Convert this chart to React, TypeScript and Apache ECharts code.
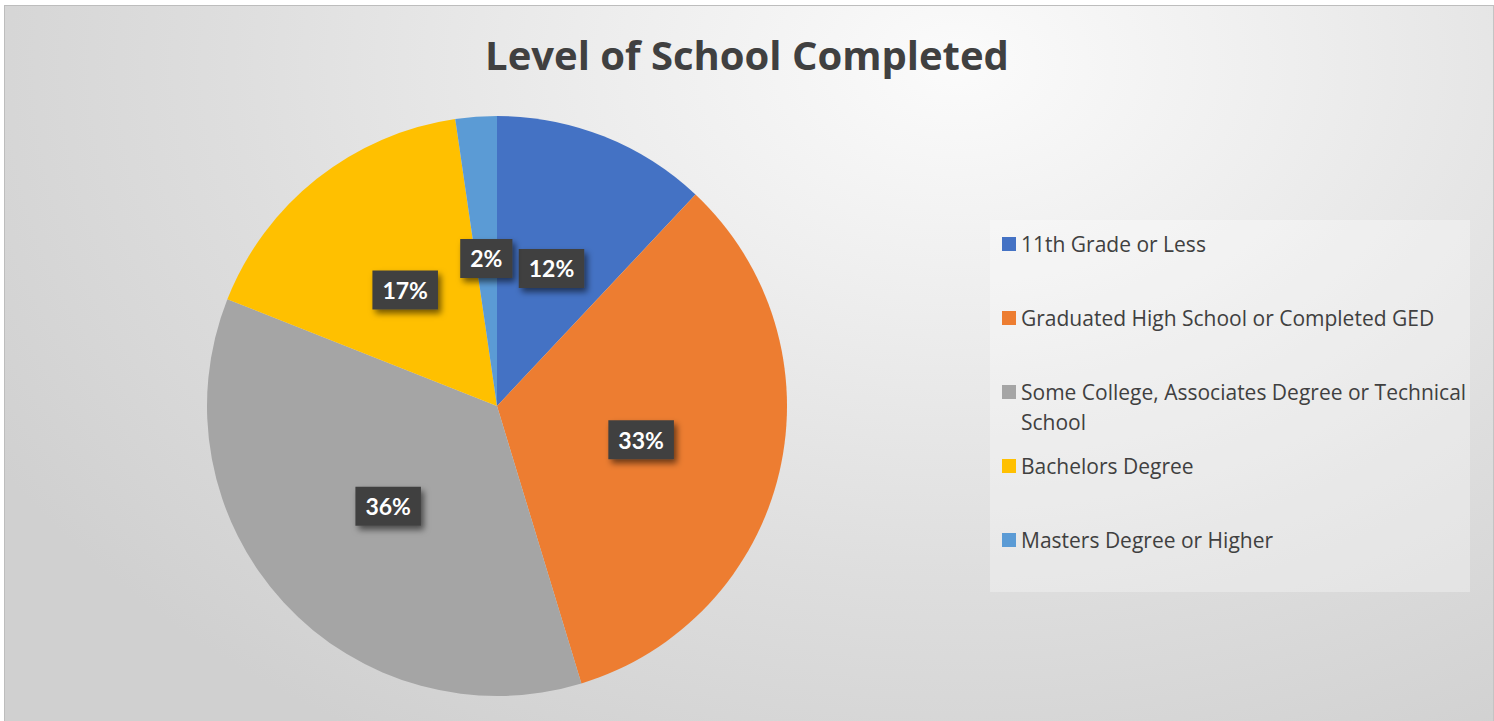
import React, { useEffect, useRef } from "react";
import * as echarts from "echarts";

const TITLE = "Level of School Completed";
const categories = [
  "11th Grade or Less",
  "Graduated High School or Completed GED",
  "Some College, Associates Degree or Technical School",
  "Bachelors Degree",
  "Masters Degree or Higher",
];
const values = [12.0, 33.3, 35.7, 16.7, 2.3];
const colors = ["#4472C4", "#ED7D31", "#A5A5A5", "#FFC000", "#5B9BD5"];
// how legend names wrap in the picture
const legendWrapped: Record<string, string> = {
  "Some College, Associates Degree or Technical School":
    "Some College, Associates Degree or Technical\nSchool",
};
const legendCenters = [244, 318, 392, 466, 540];

const FONT = "Lato, 'Open Sans', sans-serif";
const WIDE_FONT = "'Open Sans', Lato, sans-serif";

export default function App() {
  const ref = useRef<HTMLDivElement>(null);
  useEffect(() => {
    if (!ref.current) return;
    const chart = echarts.init(ref.current, undefined, { renderer: "svg" });
    const legends = categories.map((name, i) => {
      const wrapped = legendWrapped[name];
      const base: any = {
        data: [name],
        orient: "vertical",
        left: 1002,
        padding: 0,
        itemWidth: 14,
        itemHeight: 14,
        icon: "rect",
        selectedMode: false,
        formatter: (n: string) => legendWrapped[n] || n,
        textStyle: { color: "#404040", fontSize: 21, fontFamily: WIDE_FONT, lineHeight: 24 },
        top: legendCenters[i] - 12,
      };
      if (wrapped) {
        base.itemHeight = 44;
        base.icon = "path://M0,0H14V14H0Z M0,44H0.01V44.01H0Z";
        base.textStyle = { ...base.textStyle, lineHeight: 30 };
        base.top = legendCenters[i] - 15;
      }
      return base;
    });
    chart.setOption({
      animation: false,
      backgroundColor: "transparent",
      color: colors,
      title: {
        text: TITLE,
        left: "center",
        top: 29,
        textStyle: { color: "#404040", fontSize: 40, fontWeight: "bold", fontFamily: WIDE_FONT },
      },
      legend: legends,
      graphic: [
        {
          type: "rect",
          z: -1,
          shape: { x: 990, y: 220, width: 480, height: 372 },
          style: { fill: "rgba(255,255,255,0.3)" },
        },
      ],
      series: [
        {
          type: "pie",
          center: [497, 406],
          radius: 290,
          startAngle: 90,
          clockwise: true,
          percentPrecision: 0,
          data: categories.map((name, i) => ({ name, value: values[i] })),
          label: {
            show: true,
            position: "inside",
            formatter: "{d}%",
            color: "#ffffff",
            fontSize: 23,
            fontWeight: "bold",
            fontFamily: FONT,
            backgroundColor: "#404040",
            padding: [8, 10, 8, 10],
            shadowColor: "rgba(0,0,0,0.55)",
            shadowBlur: 6,
            shadowOffsetX: 3,
            shadowOffsetY: 4,
          },
          labelLine: { show: false },
          emphasis: { disabled: true },
        },
      ],
    });
    return () => chart.dispose();
  }, []);
  return (
    <div style={{ position: "fixed", left: 0, top: 0, width: 1494, height: 721, overflow: "hidden", background: "#ffffff" }}>
      <div
        style={{
          position: "absolute",
          left: 4,
          top: 5,
          width: 1490,
          height: 720,
          boxSizing: "border-box",
          borderTop: "1px solid #bdbdbd",
          borderLeft: "1px solid #bdbdbd",
          borderRight: "1px solid #c4c4c4",
          background:
            "radial-gradient(ellipse 75% 110% at 64% 8%, #fbfbfb 0%, #eeeeee 30%, #dedede 65%, #d0d0d0 100%)",
        }}
      />
      <div ref={ref} style={{ position: "absolute", left: 0, top: 0, width: 1494, height: 721 }} />
    </div>
  );
}
